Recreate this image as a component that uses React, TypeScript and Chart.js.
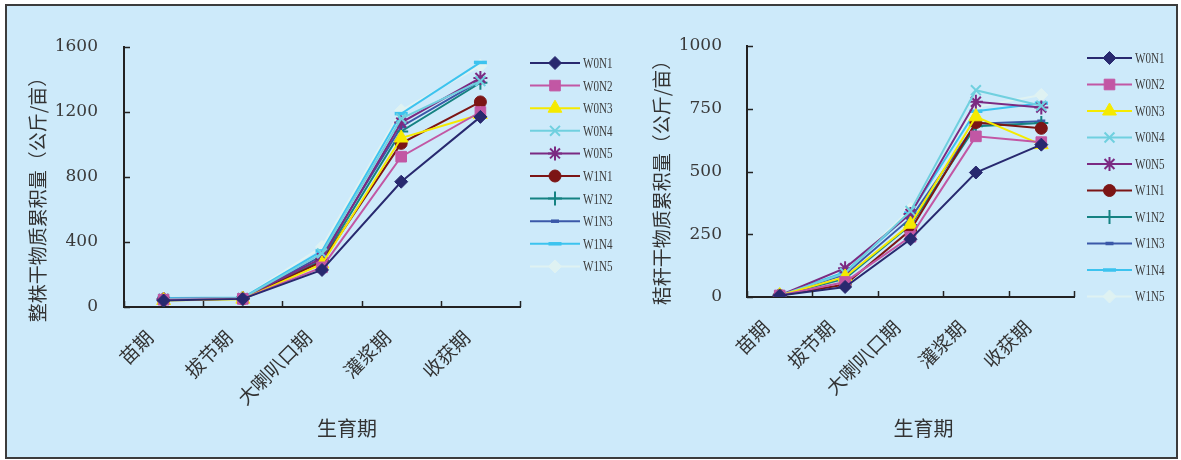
import React, { useEffect, useRef } from 'react';
import { Chart, registerables } from 'chart.js';
import { drawPoint } from 'chart.js/helpers';

Chart.register(...registerables);

// ---------- data ----------
const stages = ['苗期', '拔节期', '大喇叭口期', '灌浆期', '收获期'];
const seriesNames = ['W0N1', 'W0N2', 'W0N3', 'W0N4', 'W0N5', 'W1N1', 'W1N2', 'W1N3', 'W1N4', 'W1N5'];

// whole plant dry matter accumulation (kg/mu)
const plantW0N1 = [40, 50, 228, 771, 1170];
const plantW0N2 = [45, 50, 244, 925, 1200];
const plantW0N3 = [40, 48, 265, 1040, 1185];
const plantW0N4 = [50, 55, 330, 1160, 1390];
const plantW0N5 = [50, 55, 300, 1135, 1410];
const plantW1N1 = [45, 50, 279, 1007, 1262];
const plantW1N2 = [45, 52, 289, 1080, 1380];
const plantW1N3 = [42, 52, 315, 1110, 1392];
const plantW1N4 = [55, 58, 345, 1190, 1505];
const plantW1N5 = [58, 58, 370, 1210, 1485];

// straw dry matter accumulation (kg/mu)
const strawW0N1 = [6, 40, 230, 496, 607];
const strawW0N2 = [6, 60, 240, 640, 617];
const strawW0N3 = [6, 80, 290, 718, 607];
const strawW0N4 = [6, 95, 343, 824, 762];
const strawW0N5 = [6, 115, 331, 778, 755];
const strawW1N1 = [6, 50, 267, 695, 672];
const strawW1N2 = [6, 73, 287, 680, 693];
const strawW1N3 = [6, 90, 313, 690, 700];
const strawW1N4 = [6, 100, 334, 740, 772];
const strawW1N5 = [6, 105, 350, 757, 805];

const plantTicks = [0, 400, 800, 1200, 1600];
const strawTicks = [0, 250, 500, 750, 1000];

const plantSeries = [plantW0N1, plantW0N2, plantW0N3, plantW0N4, plantW0N5, plantW1N1, plantW1N2, plantW1N3, plantW1N4, plantW1N5];
const strawSeries = [strawW0N1, strawW0N2, strawW0N3, strawW0N4, strawW0N5, strawW1N1, strawW1N2, strawW1N3, strawW1N4, strawW1N5];

// ---------- styles ----------
const colors = ['#28296f', '#c257a4', '#f5ea00', '#70d0df', '#7b2a82', '#7c1515', '#158282', '#3b58a8', '#3cc3ef', '#dff2f2'];
const pStyles: any[] = ['rectRot', 'rect', 'triangle', 'crossRot', 'star', 'circle', 'cross', 'line', 'line', 'rectRot'];
const pRadius = [6.5, 7.5, 8, 7, 7, 6, 7, 4, 6.5, 6.5];
const pBorder = [1, 1, 1, 2, 2, 1, 2, 3.5, 3.5, 1];

const CJK = '"Noto Sans CJK SC", sans-serif';
const NUM = '"DejaVu Serif", serif';

function makeDatasets(series: number[][]) {
  return series.map((d, i) => ({
    label: seriesNames[i],
    data: d,
    borderColor: colors[i],
    backgroundColor: colors[i],
    borderWidth: 2,
    pointStyle: pStyles[i],
    pointRadius: pRadius[i],
    pointBackgroundColor: colors[i],
    pointBorderColor: colors[i],
    pointBorderWidth: pBorder[i],
    tension: 0,
  }));
}

interface Cfg {
  series: number[][];
  ticks: number[];
  yTitle: string;
  padTop: number;
  padRight: number;
  yWidth: number;
  xHeight: number;
  tickPad: number;
  legendDx: number;
  legendLen: number;
  legendTop: number;
  legendGap: number;
  yTitleX: number;
  yTitleY: number;
  xTitleDx: number;
  xTitleY: number;
}

function makePlugin(cfg: Cfg) {
  return {
    id: 'custom',
    afterDraw(chart: any) {
      const { ctx, chartArea } = chart;
      const { left, right, top, bottom } = chartArea;
      const xs = chart.scales.x;
      const ys = chart.scales.y;
      ctx.save();
      // inward ticks
      ctx.strokeStyle = '#222';
      ctx.lineWidth = 1.5;
      ys.ticks.forEach((t: any) => {
        const py = Math.round(ys.getPixelForValue(t.value)) + 0.5;
        ctx.beginPath();
        ctx.moveTo(left, py);
        ctx.lineTo(left + 6, py);
        ctx.stroke();
      });
      for (let i = 0; i <= stages.length; i++) {
        const px = Math.round(xs.getPixelForValue(i - 0.5)) + 0.5;
        ctx.beginPath();
        ctx.moveTo(px, bottom);
        ctx.lineTo(px, bottom - 6);
        ctx.stroke();
      }
      // legend
      const x0 = right + cfg.legendDx;
      chart.data.datasets.forEach((ds: any, i: number) => {
        const yy = top + cfg.legendTop + i * cfg.legendGap;
        ctx.strokeStyle = ds.borderColor;
        ctx.lineWidth = 2;
        ctx.beginPath();
        ctx.moveTo(x0, yy);
        ctx.lineTo(x0 + cfg.legendLen, yy);
        ctx.stroke();
        ctx.fillStyle = ds.pointBackgroundColor;
        ctx.strokeStyle = ds.pointBorderColor;
        ctx.lineWidth = ds.pointBorderWidth;
        drawPoint(ctx, { pointStyle: ds.pointStyle, radius: ds.pointRadius, rotation: 0, borderWidth: ds.pointBorderWidth } as any, x0 + cfg.legendLen / 2, yy);
        ctx.save();
        ctx.translate(x0 + cfg.legendLen + 3, yy);
        ctx.scale(0.74, 1);
        ctx.fillStyle = '#3c3c3c';
        ctx.font = '15px "Liberation Serif", serif';
        ctx.textAlign = 'left';
        ctx.textBaseline = 'middle';
        ctx.fillText(ds.label, 0, 1);
        ctx.restore();
      });
      // titles
      ctx.fillStyle = '#333';
      ctx.font = '19px ' + CJK;
      ctx.textAlign = 'center';
      ctx.textBaseline = 'middle';
      ctx.save();
      ctx.translate(cfg.yTitleX, cfg.yTitleY);
      ctx.rotate(-Math.PI / 2);
      ctx.fillText(cfg.yTitle, 0, 0);
      ctx.restore();
      ctx.font = '20px ' + CJK;
      ctx.fillText('生育期', (left + right) / 2 + cfg.xTitleDx, cfg.xTitleY);
      ctx.restore();
    },
  };
}

function LineChart({ cfg, width, height, style }: { cfg: Cfg; width: number; height: number; style: any }) {
  const ref = useRef<HTMLCanvasElement | null>(null);
  useEffect(() => {
    if (!ref.current) return;
    const t = cfg.ticks;
    const chart = new Chart(ref.current, {
      type: 'line',
      data: { labels: stages, datasets: makeDatasets(cfg.series) as any },
      options: {
        animation: false,
        responsive: false,
        devicePixelRatio: 1,
        layout: { padding: { top: cfg.padTop, right: cfg.padRight, left: 0, bottom: 0 } },
        plugins: { legend: { display: false }, tooltip: { enabled: false } },
        scales: {
          x: {
            type: 'category',
            offset: true,
            grid: { display: true, drawOnChartArea: false, drawTicks: false },
            border: { display: true, color: '#222', width: 2 },
            ticks: {
              autoSkip: false,
              maxRotation: 45,
              minRotation: 45,
              padding: 19,
              labelOffset: -14,
              color: '#333',
              font: { family: CJK, size: 19 },
            },
            afterFit: (s: any) => { s.height = cfg.xHeight; },
          },
          y: {
            min: t[0],
            max: t[t.length - 1],
            grid: { display: true, drawOnChartArea: false, drawTicks: false },
            border: { display: true, color: '#222', width: 2 },
            ticks: {
              stepSize: t[1] - t[0],
              padding: cfg.tickPad,
              color: '#3a3a3a',
              font: { family: NUM, size: 17 },
              callback: (v: any) => String(v),
            },
            afterFit: (s: any) => { s.width = cfg.yWidth; },
          },
        },
      } as any,
      plugins: [makePlugin(cfg)],
    });
    return () => chart.destroy();
  }, []);
  return (
    <div style={{ position: 'absolute', width, height, ...style }}>
      <canvas ref={ref} width={width} height={height} style={{ width, height, display: 'block' }} />
    </div>
  );
}

const leftCfg: Cfg = {
  series: plantSeries,
  ticks: plantTicks,
  yTitle: '整株干物质累积量（公斤/亩）',
  padTop: 37,
  padRight: 110,
  yWidth: 114,
  xHeight: 143,
  tickPad: 26,
  legendDx: 10,
  legendLen: 50,
  legendTop: 16,
  legendGap: 22.6,
  yTitleX: 28,
  yTitleY: 185,
  xTitleDx: 25,
  xTitleY: 418,
};

const rightCfg: Cfg = {
  series: strawSeries,
  ticks: strawTicks,
  yTitle: '秸秆干物质累积量（公斤/亩）',
  padTop: 36,
  padRight: 101,
  yWidth: 107,
  xHeight: 153,
  tickPad: 25,
  legendDx: 13,
  legendLen: 45,
  legendTop: 12,
  legendGap: 26.5,
  yTitleX: 22,
  yTitleY: 168,
  xTitleDx: 13,
  xTitleY: 418,
};

export default function App() {
  return (
    <div style={{ position: 'absolute', left: 0, top: 0, width: 1181, height: 460 }}>
      <div
        style={{
          position: 'absolute',
          left: 5,
          top: 4,
          width: 1173,
          height: 455,
          boxSizing: 'border-box',
          border: '2px solid #3c3c3c',
          background: '#cdeafa',
        }}
      />
      <LineChart cfg={leftCfg} width={620} height={440} style={{ left: 10, top: 10 }} />
      <LineChart cfg={rightCfg} width={535} height={440} style={{ left: 640, top: 10 }} />
    </div>
  );
}
